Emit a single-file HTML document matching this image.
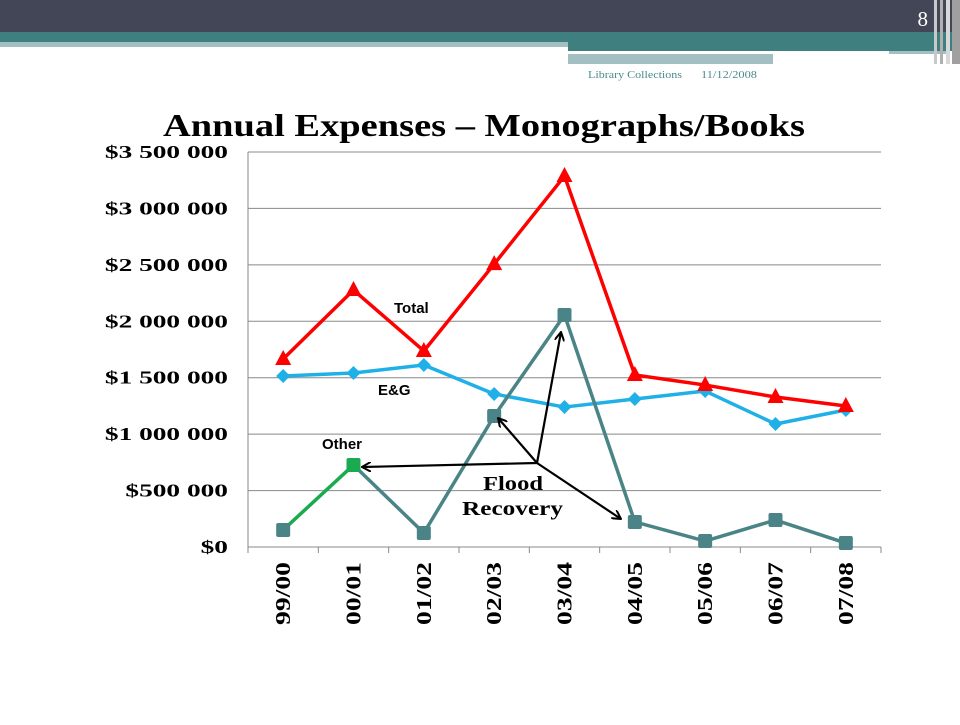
<!DOCTYPE html>
<html><head><meta charset="utf-8"><style>
body{margin:0;width:960px;height:720px;overflow:hidden;background:#fff;font-family:"Liberation Serif",serif}
</style></head><body>
<svg width="960" height="720" viewBox="0 0 960 720" xmlns="http://www.w3.org/2000/svg">
<g>
<rect x="0" y="0" width="960" height="32" fill="#434656"/>
<rect x="0" y="32" width="960" height="10" fill="#3f7f80"/>
<rect x="0" y="42" width="568" height="5" fill="#a3bfc2"/>
<rect x="568" y="42" width="392" height="9" fill="#3f7f80"/>
<rect x="568" y="51" width="321" height="3" fill="#ffffff"/>
<rect x="889" y="51" width="60" height="3" fill="#a3bfc2"/>
<rect x="568" y="54" width="205" height="10" fill="#a3bfc2"/>
<rect x="773" y="54" width="170" height="6" fill="#ffffff"/>
<rect x="934" y="0" width="3" height="64" fill="#c8c8c8"/>
<rect x="940" y="0" width="3" height="64" fill="#b0b0b0"/>
<rect x="946" y="0" width="4" height="64" fill="#d8d8d8"/>
<rect x="952" y="0" width="8" height="64" fill="#a0a0a0"/>
</g>
<text x="928" y="26" font-size="21" fill="#fff" text-anchor="end">8</text>
<text x="588" y="78" font-size="11" fill="#4a8a8c" textLength="94" lengthAdjust="spacingAndGlyphs">Library Collections</text>
<text x="701" y="78" font-size="11" fill="#4a8a8c" textLength="56" lengthAdjust="spacingAndGlyphs">11/12/2008</text>
<text x="163" y="136" font-size="32" font-weight="bold" fill="#000" textLength="642" lengthAdjust="spacingAndGlyphs">Annual Expenses – Monographs/Books</text>
<g id="chart"></g>
<g>
<text x="394" y="313" font-family="Liberation Sans,sans-serif" font-size="15" font-weight="bold">Total</text>
<text x="378" y="395" font-family="Liberation Sans,sans-serif" font-size="15" font-weight="bold">E&amp;G</text>
<text x="322" y="449" font-family="Liberation Sans,sans-serif" font-size="15" font-weight="bold">Other</text>
<text x="483" y="490" font-size="20" font-weight="bold" textLength="60" lengthAdjust="spacingAndGlyphs">Flood</text>
<text x="462" y="515" font-size="20" font-weight="bold" textLength="101" lengthAdjust="spacingAndGlyphs">Recovery</text>
<defs><marker id="ah" markerWidth="10" markerHeight="10" refX="9" refY="5" orient="auto" markerUnits="userSpaceOnUse"><path d="M0,0 L9,5 L0,10" fill="none" stroke="#000" stroke-width="2"/></marker></defs>
<g stroke="#000" stroke-width="2.2" fill="none" marker-end="url(#ah)">
<line x1="537" y1="463" x2="362" y2="467"/>
<line x1="537" y1="463" x2="561" y2="332"/>
<line x1="537" y1="463" x2="498" y2="418"/>
<line x1="537" y1="463" x2="621" y2="519"/>
</g>
</g>
</svg>
<script>
const categories=["99/00","00/01","01/02","02/03","03/04","04/05","05/06","06/07","07/08"];
const totalValues=[1666000,2277000,1737000,2507000,3287000,1524000,1435000,1329000,1249000];
const egValues=[1515000,1542000,1613000,1356000,1240000,1311000,1382000,1090000,1214000];
const otherValues=[151000,727000,124000,1161000,2056000,222000,53000,239000,35000];
const yTicks=[0,500000,1000000,1500000,2000000,2500000,3000000,3500000];
const yTickLabels=["$0","$500 000","$1 000 000","$1 500 000","$2 000 000","$2 500 000","$3 000 000","$3 500 000"];
const NS="http://www.w3.org/2000/svg";
const g=document.getElementById('chart');
const L=248,R=881,T=152,B=547,yMax=3500000;
const bw=(R-L)/categories.length;
const x=i=>L+bw*(i+0.5);
const y=v=>B-(v/yMax)*(B-T);
function mk(tag,attrs,parent){const e=document.createElementNS(NS,tag);for(const k in attrs)e.setAttribute(k,attrs[k]);(parent||g).appendChild(e);return e;}
yTicks.forEach((t,i)=>{
 const ln=mk('line',{x1:L,x2:R,y1:y(t),y2:y(t),stroke:'#888','stroke-width':1});
 
 
 const tx=mk('text',{x:228,y:y(t)+6,'text-anchor':'end','font-size':18,'font-weight':'bold'});
 tx.textContent=yTickLabels[i];
 
 
 const w=tx.getComputedTextLength();
 tx.setAttribute('textLength',(w*1.52).toFixed(1));
 tx.setAttribute('lengthAdjust','spacingAndGlyphs');
});
const ax=mk('line',{x1:L,x2:L,y1:T,y2:B,stroke:'#888','stroke-width':1});


for(let i=0;i<=categories.length;i++){
 const tk=mk('line',{x1:L+bw*i,x2:L+bw*i,y1:B,y2:B+6,stroke:'#888','stroke-width':1});
 
 
}
categories.forEach((c,i)=>{
 const tx=mk('text',{transform:`translate(${x(i)+7},562) rotate(-90)`,'text-anchor':'end','font-size':21,'font-weight':'bold',textLength:63,lengthAdjust:'spacingAndGlyphs'});
 tx.textContent=c;
 
 
});
function line(vals,color,name,from){
 const pts=vals.map((v,i)=>[x(i),y(v)]).slice(from||0);
 const p=mk('polyline',{points:pts.map(p=>p.join(',')).join(' '),fill:'none',stroke:color,'stroke-width':3.5,'stroke-linejoin':'round'});
 
 
}
line(egValues,'#1fb0e8','eg-line');
egValues.forEach((v,i)=>{const cx=x(i),cy=y(v);
 const m=mk('polygon',{points:`${cx},${cy-7} ${cx+7},${cy} ${cx},${cy+7} ${cx-7},${cy}`,fill:'#1fb0e8'});
 
 });
line(otherValues,'#4a8486','other-line',1);
const seg=mk('line',{x1:x(0),y1:y(otherValues[0]),x2:x(1),y2:y(otherValues[1]),stroke:'#1aaa50','stroke-width':3.5});


otherValues.forEach((v,i)=>{const m=mk('rect',{x:x(i)-7,y:y(v)-7,width:14,height:14,rx:2,fill:i==1?'#1aaa50':'#4a8486'});
 
 });
line(totalValues,'#ff0000','total-line');
totalValues.forEach((v,i)=>{const cx=x(i),cy=y(v);
 const m=mk('polygon',{points:`${cx},${cy-9} ${cx+8},${cy+6} ${cx-8},${cy+6}`,fill:'#ff0000'});
 
 });
</script>
</body></html>
